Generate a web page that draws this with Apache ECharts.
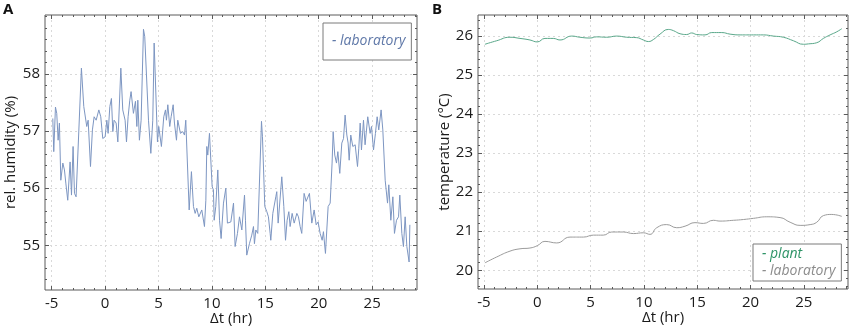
<!DOCTYPE html>
<html>
<head>
<meta charset="utf-8">
<script src="https://cdn.jsdelivr.net/npm/echarts@6/dist/echarts.min.js"></script>
<style>
  html, body { margin: 0; padding: 0; background: #ffffff; }
  #chart { width: 850px; height: 327px; }
</style>
</head>
<body>
<div id="chart"></div>
<script>
// Panel A: relative humidity in the laboratory
const humidityTime = [
  -4.90, -4.81, -4.65, -4.53, -4.40, -4.28, -4.15, -3.96, -3.81, -3.68, -3.50, -3.28, -3.15, -3.00, -2.87, -2.72,
  -2.22, -2.00, -1.72, -1.59, -1.37, -1.19, -1.03, -0.84, -0.59, -0.41, -0.22, 0.00, 0.16, 0.28, 0.44, 0.59,
  0.72, 0.84, 1.03, 1.19, 1.34, 1.47, 1.65, 1.87, 2.00, 2.15, 2.31, 2.43, 2.65, 2.84, 2.97, 3.06,
  3.21, 3.37, 3.59, 3.71, 4.06, 4.28, 4.46, 4.59, 4.78, 4.90, 5.02, 5.27, 5.49, 5.65, 5.74, 5.87,
  6.05, 6.18, 6.37, 6.49, 6.68, 6.80, 6.93, 7.05, 7.27, 7.43, 7.55, 7.87, 8.08, 8.27, 8.43, 8.58,
  8.77, 9.05, 9.30, 9.43, 9.52, 9.61, 9.77, 10.02, 10.14, 10.21, 10.36, 10.55, 10.71, 10.86, 11.08, 11.30,
  11.45, 11.77, 12.02, 12.17, 12.39, 12.58, 12.80, 13.05, 13.14, 13.26, 13.51, 13.73, 13.89, 13.98, 14.11, 14.29,
  14.64, 14.73, 14.95, 15.14, 15.29, 15.45, 15.51, 15.70, 15.98, 16.07, 16.20, 16.54, 16.73, 16.89, 17.04, 17.20,
  17.32, 17.51, 17.70, 17.95, 18.10, 18.26, 18.41, 18.63, 18.82, 19.13, 19.35, 19.57, 19.76, 19.94, 20.13, 20.32,
  20.44, 20.63, 20.88, 21.07, 21.25, 21.35, 21.50, 21.66, 21.79, 21.97, 22.16, 22.32, 22.47, 22.63, 22.75, 22.85,
  23.00, 23.19, 23.41, 23.63, 23.75, 23.88, 24.00, 24.19, 24.34, 24.59, 24.81, 24.94, 25.13, 25.31, 25.47, 25.62,
  25.84, 26.00, 26.22, 26.44, 26.56, 26.75, 26.94, 27.09, 27.28, 27.47, 27.59, 27.78, 27.93, 28.09, 28.25, 28.46,
  28.53
];
const humidity = [
  57.22, 56.64, 57.42, 57.31, 56.84, 57.14, 56.14, 56.44, 56.32, 56.09, 55.79, 56.46, 55.88, 56.73, 55.91, 55.85,
  58.10, 57.43, 57.08, 57.19, 56.38, 57.02, 57.25, 57.19, 57.37, 57.25, 56.87, 56.90, 57.19, 56.96, 57.43, 57.57,
  56.99, 57.19, 57.14, 56.81, 57.49, 58.10, 57.37, 57.19, 56.81, 57.25, 57.54, 57.69, 57.31, 57.52, 57.08, 57.54,
  56.84, 57.19, 58.78, 58.65, 57.19, 56.61, 57.19, 58.54, 57.49, 56.81, 57.08, 56.73, 57.25, 57.37, 57.19, 57.46,
  57.08, 57.25, 57.46, 57.14, 56.84, 57.19, 57.22, 56.96, 56.99, 56.93, 57.19, 55.62, 56.29, 55.68, 55.56, 55.65,
  55.50, 55.62, 55.33, 55.79, 56.73, 56.58, 56.96, 56.03, 55.97, 55.44, 55.68, 56.32, 55.44, 55.12, 55.74, 56.00,
  55.39, 55.41, 55.74, 54.98, 55.21, 55.50, 55.27, 55.88, 55.44, 54.83, 55.03, 55.18, 55.33, 55.03, 55.27, 55.21,
  57.17, 56.90, 55.68, 55.59, 55.50, 55.21, 55.09, 55.56, 55.85, 55.94, 55.39, 56.20, 55.68, 55.09, 55.44, 55.59,
  55.33, 55.56, 55.39, 55.56, 55.50, 55.33, 55.21, 55.91, 55.77, 55.91, 55.39, 55.62, 55.36, 55.41, 55.21, 55.09,
  55.24, 54.86, 55.68, 55.74, 56.44, 56.99, 56.58, 56.44, 56.64, 56.26, 56.79, 56.87, 57.28, 56.93, 56.79, 56.49,
  56.93, 56.73, 56.76, 56.38, 56.70, 57.14, 56.67, 57.19, 56.76, 57.25, 56.96, 57.08, 56.67, 56.96, 57.25, 57.02,
  57.37, 57.02, 56.14, 55.74, 56.06, 55.44, 55.85, 55.21, 55.44, 55.50, 55.88, 55.21, 54.98, 55.50, 54.98, 54.71,
  55.36
];

// Panel B: temperature of the plant and of the laboratory
const plantTime = [
  -4.91, -3.81, -2.56, -1.62, -0.69, 0.00, 0.72, 1.50, 2.13, 3.23, 4.00, 4.94, 5.57, 6.51, 7.45, 8.39,
  9.32, 9.95, 10.42, 10.88, 11.51, 12.29, 12.76, 13.39, 14.01, 14.48, 14.95, 15.73, 16.36, 17.30, 18.08, 19.02,
  20.27, 21.20, 22.14, 23.08, 24.02, 24.96, 25.43, 26.21, 26.83, 27.46, 28.09, 28.56
];
const plantTemp = [
  25.79, 25.88, 25.97, 25.94, 25.90, 25.85, 25.94, 25.94, 25.90, 26.00, 25.97, 25.95, 25.98, 25.97, 26.00, 25.97,
  25.96, 25.90, 25.86, 25.91, 26.05, 26.17, 26.14, 26.06, 26.04, 26.08, 26.04, 26.03, 26.09, 26.09, 26.05, 26.03,
  26.03, 26.03, 26.00, 25.97, 25.88, 25.79, 25.80, 25.83, 25.94, 26.03, 26.11, 26.19
];
const labTime = [
  -4.91, -3.81, -2.56, -1.62, -0.69, 0.00, 0.72, 1.82, 3.07, 4.32, 5.26, 6.19, 6.98, 8.07, 9.01, 9.95,
  10.57, 11.20, 12.14, 13.08, 13.86, 14.79, 15.57, 16.51, 17.14, 18.39, 19.33, 20.27, 21.52, 22.77, 23.71, 24.65,
  25.59, 26.21, 26.83, 27.62, 28.56
];
const labTemp = [
  20.19, 20.34, 20.49, 20.55, 20.57, 20.63, 20.74, 20.70, 20.85, 20.85, 20.90, 20.90, 20.98, 20.98, 20.94, 20.96,
  20.92, 21.09, 21.17, 21.09, 21.13, 21.22, 21.20, 21.28, 21.26, 21.28, 21.30, 21.33, 21.37, 21.35, 21.23, 21.15,
  21.17, 21.23, 21.40, 21.43, 21.38
];

// Tick labels
const timeTicks = [-5, 0, 5, 10, 15, 20, 25];
const humidityTicks = [55, 56, 57, 58];
const tempTicks = [20, 21, 22, 23, 24, 25, 26];

const FONT = '"Open Sans", "Noto Sans", sans-serif';
const FRAME = '#5a5a5a';
const GRIDLINE = '#d9d9d9';

function steps(from, to, step, skip) {
  const out = [];
  for (let v = from; v <= to + 1e-9; v += step) {
    const r = Math.round(v * 100) / 100;
    if (!skip.some(s => Math.abs(s - r) < 1e-6)) out.push(r);
  }
  return out;
}
function zip(a, b) { return a.map((v, i) => [v, b[i]]); }

// Frame-style axes: labelled major ticks on bottom/left, plain ticks on all four sides
function frameAxes(dim, gridIndex, min, max, major, minor, name, nameGap) {
  const base = {
    type: 'value', gridIndex, min, max,
    axisLine: { show: false, onZero: false },
    splitLine: { show: false },
    axisLabel: { show: false }
  };
  const near = dim === 'x' ? 'bottom' : 'left';
  const far = dim === 'x' ? 'top' : 'right';
  const tick = (vals, len) => ({ show: true, inside: true, length: len, customValues: vals,
    lineStyle: { color: FRAME, width: 1 } });
  return [
    Object.assign({}, base, {
      position: near,
      axisTick: tick(major, 4),
      axisLabel: { show: true, customValues: major, margin: dim === 'x' ? 6 : 5,
        color: '#1a1a1a', fontFamily: FONT, fontSize: 15 },
      splitLine: { show: true, lineStyle: { color: GRIDLINE, type: [2, 3], width: 1 } },
      name: name, nameLocation: 'middle', nameGap: nameGap, nameMoveOverlap: false,
      nameTextStyle: { color: '#1a1a1a', fontFamily: FONT, fontSize: 15 }
    }),
    Object.assign({}, base, { position: near, axisTick: tick(minor, 2) }),
    Object.assign({}, base, { position: far, axisTick: tick(major, 4) }),
    Object.assign({}, base, { position: far, axisTick: tick(minor, 2) })
  ];
}

const xMinor = steps(-5, 29, 1, timeTicks);
const humMinor = steps(54.4, 59.0, 0.2, humidityTicks);
const tempMinor = steps(19.6, 26.4, 0.2, tempTicks);

const xAxes = [].concat(
  frameAxes('x', 0, -5.63, 29.2, timeTicks, xMinor, 'Δt (hr)', 21),
  frameAxes('x', 1, -5.56, 29.14, timeTicks, xMinor, 'Δt (hr)', 21)
);
const yAxes = [].concat(
  frameAxes('y', 0, 54.22, 59.03, humidityTicks, humMinor, 'rel. humidity (%)', 27),
  frameAxes('y', 1, 19.52, 26.54, tempTicks, tempMinor, 'temperature (°C)', 26)
);

const legendNames = { plant: 'plant', lab: 'laboratory', laboratory: 'laboratory' };

const chart = echarts.init(document.getElementById('chart'), null, { renderer: 'canvas' });
chart.setOption({
  backgroundColor: '#ffffff',
  animation: false,
  textStyle: { fontFamily: FONT },
  grid: [
    { left: 45, top: 15, width: 372, height: 275, outerBoundsMode: 'none', containLabel: false,
      show: true, borderColor: FRAME, borderWidth: 1, backgroundColor: 'transparent' },
    { left: 478, top: 15, width: 370, height: 274, outerBoundsMode: 'none', containLabel: false,
      show: true, borderColor: FRAME, borderWidth: 1, backgroundColor: 'transparent' }
  ],
  graphic: [
    { type: 'text', left: 3, top: 2, style: { text: 'A', font: 'bold 15px "Open Sans", sans-serif', fill: '#111' } },
    { type: 'text', left: 432, top: 2, style: { text: 'B', font: 'bold 15px "Open Sans", sans-serif', fill: '#111' } }
  ],
  legend: [
    {
      left: 323, top: 23, orient: 'vertical', icon: 'none', itemWidth: 0, itemHeight: 0,
      padding: [11, 6, 12, 4], borderColor: '#7a7a7a', borderWidth: 1, backgroundColor: '#fff',
      selectedMode: false, formatter: n => '- ' + legendNames[n],
      textStyle: { fontFamily: FONT, fontSize: 14, fontStyle: 'italic' },
      data: [{ name: 'laboratory', textStyle: { color: '#5f78a8' } }]
    },
    {
      left: 753, top: 244, orient: 'vertical', icon: 'none', itemWidth: 0, itemHeight: 0, itemGap: 3,
      padding: [3, 6, 3, 4], borderColor: '#7a7a7a', borderWidth: 1, backgroundColor: '#fff',
      selectedMode: false, formatter: n => '- ' + legendNames[n],
      textStyle: { fontFamily: FONT, fontSize: 14, fontStyle: 'italic' },
      data: [
        { name: 'plant', textStyle: { color: '#2e9467' } },
        { name: 'lab', textStyle: { color: '#8c8c8c' } }
      ]
    }
  ],
  xAxis: xAxes,
  yAxis: yAxes,
  series: [
    {
      name: 'laboratory', type: 'line', xAxisIndex: 0, yAxisIndex: 0,
      showSymbol: false, smooth: false,
      lineStyle: { color: '#7d96c2', width: 1 }, itemStyle: { color: '#7d96c2' },
      data: zip(humidityTime, humidity)
    },
    {
      name: 'plant', type: 'line', xAxisIndex: 4, yAxisIndex: 4,
      showSymbol: false, smooth: true,
      lineStyle: { color: '#5aa88a', width: 1 }, itemStyle: { color: '#5aa88a' },
      data: zip(plantTime, plantTemp)
    },
    {
      name: 'lab', type: 'line', xAxisIndex: 4, yAxisIndex: 4,
      showSymbol: false, smooth: true,
      lineStyle: { color: '#9c9c9c', width: 1 }, itemStyle: { color: '#9c9c9c' },
      data: zip(labTime, labTemp)
    }
  ]
});
</script>
</body>
</html>
